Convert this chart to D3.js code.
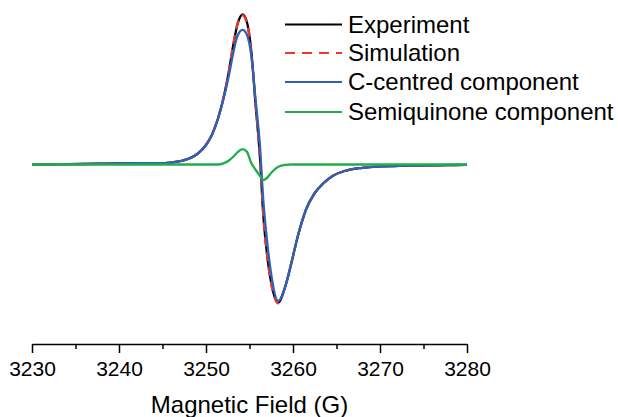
<!DOCTYPE html>
<html>
<head>
<meta charset="utf-8">
<script src="https://cdn.jsdelivr.net/npm/d3@7"></script>
<style>
    body { margin: 0; background: #fff; }
    svg { display: block; font-family: "Liberation Sans", Arial, sans-serif; }
</style>
</head>
<body>
<svg width="618" height="417"></svg>
<script>
// magnetic field grid (G)
const field = [3230, 3234, 3238, 3242, 3244.5, 3246, 3247, 3248, 3249, 3250, 3250.7, 3251.4,
    3252, 3252.6, 3253.1, 3253.6, 3254.2, 3254.7, 3255.2, 3255.7, 3256.2, 3256.6, 3257.0,
    3257.5, 3258.3, 3259.1, 3259.8, 3260.5, 3261.5, 3262.5, 3263.5, 3264.6, 3266, 3268,
    3270, 3273, 3276, 3280];

// derivative signal, arbitrary units
const experiment = [0, 0.002, 0.005, 0.009, 0.009, 0.013, 0.022, 0.038, 0.07, 0.13, 0.2, 0.31,
    0.44, 0.61, 0.785, 0.93, 1.0, 0.95, 0.76, 0.4, 0.05, -0.35, -0.59,
    -0.79, -0.92, -0.815, -0.66, -0.49, -0.3, -0.19, -0.125, -0.075, -0.042, -0.022,
    -0.013, -0.008, -0.005, -0.003];

const simulation = [0, 0.002, 0.005, 0.009, 0.009, 0.013, 0.022, 0.039, 0.071, 0.13, 0.2, 0.315,
    0.445, 0.615, 0.79, 0.935, 0.995, 0.945, 0.745, 0.4, 0.055, -0.35, -0.595,
    -0.795, -0.925, -0.815, -0.66, -0.49, -0.3, -0.19, -0.125, -0.075, -0.042, -0.022,
    -0.013, -0.008, -0.005, -0.003];

const cCentred = [0, 0.002, 0.005, 0.009, 0.009, 0.013, 0.022, 0.038, 0.07, 0.13, 0.2, 0.31,
    0.435, 0.585, 0.735, 0.855, 0.897, 0.865, 0.73, 0.43, 0.125, -0.25, -0.5,
    -0.735, -0.91, -0.815, -0.66, -0.49, -0.3, -0.19, -0.125, -0.075, -0.042, -0.022,
    -0.013, -0.008, -0.005, -0.003];

const semiquinone = [0, 0, 0, 0, 0, 0, 0, 0, 0, 0, 0, 0,
    0.008, 0.025, 0.05, 0.08, 0.103, 0.085, 0.01, -0.035, -0.075, -0.103, -0.09,
    -0.055, -0.015, -0.002, 0, 0, 0, 0, 0, 0, 0, 0,
    0, 0, 0, 0];

const xTicks = [3230, 3240, 3250, 3260, 3270, 3280];
const xMinorTicks = [3235, 3245, 3255, 3265, 3275];

const seriesNames = ["Experiment", "Simulation", "C-centred component", "Semiquinone component"];
const seriesColors = ["#000000", "#f0352c", "#2f62b5", "#1fae4b"];

const svg = d3.select("svg");

const scaleX = d3.scaleLinear().domain([3230, 3280]).range([32, 467]);
const scaleY = d3.scaleLinear().domain([-1, 1]).range([314.5, 14.5]);
const axisY0 = 344;

// minor ticks first so the main axis sits on top
svg.append("g")
    .attr("transform", `translate(0, ${axisY0})`)
    .call(d3.axisBottom(scaleX).tickValues(xMinorTicks).tickSize(5).tickFormat(""))
    .call((g) => g.select(".domain").remove())
    .selectAll("line")
    .attr("stroke-width", 1.5);

const axisX = svg.append("g")
    .attr("transform", `translate(0, ${axisY0})`)
    .call(d3.axisBottom(scaleX).tickValues(xTicks).tickSize(9).tickSizeOuter(0).tickPadding(8).tickFormat(d3.format("d")));

axisX.select(".domain").attr("stroke-width", 1.5);
axisX.selectAll("line").attr("stroke-width", 1.5);
axisX.selectAll("text")
    .style("font-family", "'Liberation Sans', Arial, sans-serif")
    .style("font-size", "21px")
    .attr("fill", "#000");

svg.append("text")
    .attr("x", (scaleX(3230) + scaleX(3280)) / 2)
    .attr("y", 413)
    .attr("text-anchor", "middle")
    .style("font-size", "24px")
    .text("Magnetic Field (G)");

function createLine(values, color, dashed) {
    const line = d3.line()
        .x((d, i) => scaleX(field[i]))
        .y((d) => scaleY(d))
        .curve(d3.curveMonotoneX);

    svg.append("path")
        .datum(values)
        .attr("d", line)
        .attr("fill", "none")
        .attr("stroke", color)
        .attr("stroke-width", 2.3)
        .attr("stroke-dasharray", dashed ? "9,6" : null)
        .attr("stroke-linejoin", "round");
}

createLine(experiment, seriesColors[0], false);
createLine(simulation, seriesColors[1], true);
createLine(cCentred, seriesColors[2], false);
createLine(semiquinone, seriesColors[3], false);

// legend
const legend = svg.append("g");
const legendY = [24.5, 53, 82, 112];

seriesNames.forEach((name, i) => {
    legend.append("line")
        .attr("x1", 285)
        .attr("x2", 342)
        .attr("y1", legendY[i])
        .attr("y2", legendY[i])
        .attr("stroke", seriesColors[i])
        .attr("stroke-width", 2)
        .attr("stroke-dasharray", i === 1 ? "10,7" : null);

    legend.append("text")
        .attr("x", 348)
        .attr("y", legendY[i])
        .attr("dy", "0.35em")
        .style("font-size", "24px")
        .text(name);
});
</script>
</body>
</html>
